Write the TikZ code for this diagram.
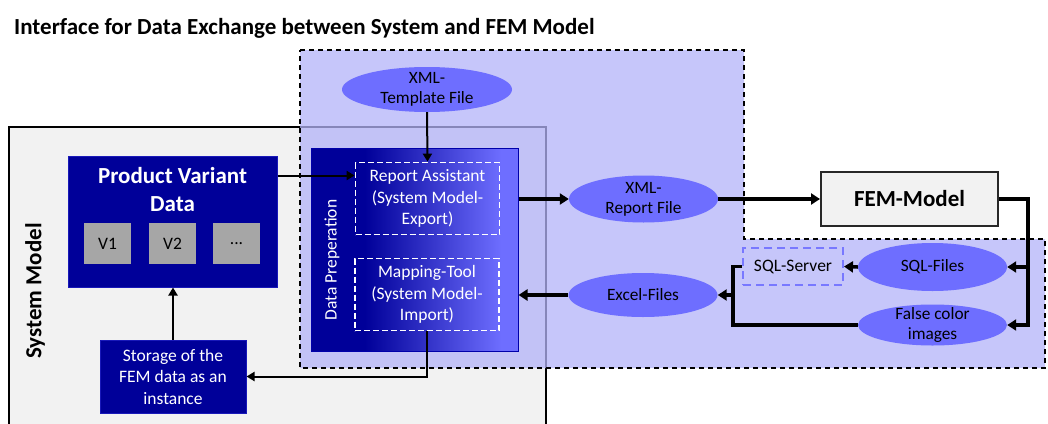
\documentclass[tikz,border=0pt]{standalone}
\usepackage{fontspec}
\setmainfont{Carlito}
\usetikzlibrary{shapes.geometric,arrows.meta}
\definecolor{dblue}{RGB}{0,0,153}
\definecolor{eblue}{RGB}{110,110,255}
\definecolor{lav}{RGB}{179,179,248}
\definecolor{sysgray}{RGB}{242,242,242}
\definecolor{vgray}{RGB}{166,166,166}
\definecolor{sqlblue}{RGB}{120,120,255}
\pgfdeclarehorizontalshading{prepshade}{100bp}{color(0bp)=(dblue); color(38bp)=(dblue); color(71bp)=(eblue); color(100bp)=(eblue)}

\begin{document}
\begin{tikzpicture}[x=1pt, y=-1pt,
  txt/.style = {font=\fontsize{17.5}{21.5}\selectfont, align=center, inner sep=0pt},
  etxt/.style = {font=\fontsize{17.3}{20}\selectfont, align=center, inner sep=0pt},
  btxt/.style = {font=\fontsize{23}{28}\selectfont\bfseries, align=center, inner sep=0pt},
  darkbox/.style = {draw={rgb,255:red,25;green,25;blue,185}, line width=1pt, fill=dblue},
  vbox/.style = {fill=vgray, minimum width=47pt, minimum height=41pt, txt},
  ell/.style = {ellipse, fill=eblue, inner sep=0pt},
  tool/.style = {draw=white, dash pattern=on 6pt off 3pt, line width=1.8pt, txt, text=white, minimum width=144pt, minimum height=72pt},
  tarr/.style = {-{Triangle[length=8pt,width=9pt]}, line width=2pt},
  karr/.style = {-{Triangle[length=9pt,width=11pt]}, line width=3.5pt},
  kline/.style = {line width=3.5pt}]
  \useasboundingbox (0,0) rectangle (1048,423);
  % system model area
  \fill[sysgray] (9,127) rectangle (546,430);
  \draw[line width=2.5pt] (9,430) -- (9,127) -- (546,127) -- (546,430);
  % interface area
  \path[fill=lav, fill opacity=0.75, draw=black, line width=1.5pt, dash pattern=on 5pt off 4pt]
    (300,50) -- (744,50) -- (744,239) -- (1045,239) -- (1045,368) -- (300,368) -- cycle;

  \node[btxt, anchor=base west] (title) at (14,34) {Interface for Data Exchange between System and FEM Model};
  \node[btxt, rotate=90] (syslbl) at (35,291) {System Model};

  \node[darkbox, minimum width=209pt, minimum height=131pt] (pvd) at (172.5,221.5) {};
  \node[btxt, text=white, anchor=base] (pvdtxt) at (172.5,211) {Product Variant\\Data};
  \node[vbox] (v1) at (107.5,243.5) {V1};
  \node[vbox] (v2) at (172.5,243.5) {V2};
  \node[vbox] (v3) at (236.5,243.5) {...};
  \node[darkbox, txt, text=white, minimum width=146pt, minimum height=73pt] (stor) at (173,376.5) {Storage of the\\FEM data as an\\instance};

  \node[draw={rgb,255:red,0;green,0;blue,170}, line width=1pt, shading=prepshade, minimum width=207pt, minimum height=203pt] (prep) at (414.5,249.5) {};
  \node[txt, text=white, rotate=90] (preplbl) at (332,260) {Data Preperation};
  \node[tool] (rep) at (427.5,198.5) {Report Assistant\\(System Model-\\Export)};
  \node[tool] (map) at (427,294.5) {Mapping-Tool\\(System Model-\\Import)};

  \node[ell, minimum width=170pt, minimum height=45pt] (tmpl) at (427,89.5) {};
  \node[etxt] (tmpltxt) at (tmpl) {XML-\\Template File};
  \node[ell, minimum width=149pt, minimum height=47pt] (xrep) at (643.5,199) {};
  \node[etxt] (xreptxt) at (xrep) {XML-\\Report File};
  \node[ell, minimum width=149pt, minimum height=44pt] (excel) at (643,295) {};
  \node[etxt] (exceltxt) at (excel) {Excel-Files};
  \node[ell, minimum width=149pt, minimum height=48pt] (sqlf) at (932.5,267) {};
  \node[etxt] (sqlftxt) at (sqlf) {SQL-Files};
  \node[ell, minimum width=149pt, minimum height=41pt] (falsec) at (932.5,325) {};
  \node[etxt] (falsectxt) at (falsec) {False color\\images};
  \node[draw=sqlblue, dash pattern=on 8pt off 5pt, line width=2pt, txt, minimum width=100pt, minimum height=37pt] (sqls) at (793,266.5) {SQL-Server};

  \node[draw={rgb,255:red,40;green,40;blue,40}, line width=2pt, fill=sysgray, btxt, minimum width=177pt, minimum height=54pt] (fem) at (909.5,199) {FEM-Model};

  \coordinate (jr) at (1028,325);
  \coordinate (jl) at (733,295);

  \draw[tarr] ([yshift=-20pt]pvd.north east) coordinate (pa) -- (pa -| rep.west);
  \draw[tarr] (tmpl.south) -- (rep.north);
  \draw[tarr] (stor.north) -- (stor.north |- pvd.south);
  \draw[tarr] (map.south) |- (stor.east);
  \draw[karr] (prep.east |- xrep) -- (xrep.west);
  \draw[karr] (xrep.east) -- (fem.west);
  \draw[karr] (fem.east) -| (jr) -- (falsec.east);
  \draw[karr] (jr |- sqlf.east) -- (sqlf.east);
  \draw[karr] (sqlf.west) -- (sqls.east);
  \draw[kline] (sqls.west) -| (jl) |- (falsec.west);
  \draw[karr] (jl) -- (excel.east);
  \draw[karr] (excel.west) -- (excel.west -| prep.east);
\end{tikzpicture}
\end{document}
